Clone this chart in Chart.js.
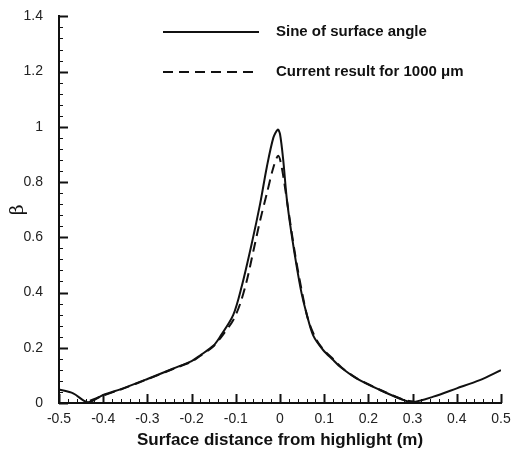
<!DOCTYPE html>
<html>
<head>
<meta charset="utf-8">
<script src="https://cdn.jsdelivr.net/npm/chart.js@4/dist/chart.umd.min.js"></script>
<style>
  html, body { margin: 0; padding: 0; background: #fff; }
  #wrap { width: 531px; height: 451px; }
</style>
</head>
<body>
<div id="wrap"><canvas id="betaChart" width="531" height="451"></canvas></div>
<script>
// surface distance (m) and beta
const sineX = [-0.5, -0.468, -0.435, -0.4, -0.355, -0.3, -0.241, -0.2, -0.181, -0.151, -0.136, -0.106,
  -0.087, -0.064, -0.045, -0.03, -0.015, -0.005, 0, 0.0075, 0.015, 0.026, 0.038, 0.049, 0.06, 0.075,
  0.098, 0.121, 0.136, 0.173, 0.226, 0.279, 0.3, 0.347, 0.4, 0.452, 0.5];
const sineY = [0.049, 0.035, 0.003, 0.029, 0.053, 0.087, 0.125, 0.152, 0.172, 0.207, 0.239, 0.318,
  0.42, 0.577, 0.721, 0.853, 0.961, 0.99, 0.974, 0.877, 0.745, 0.613, 0.492, 0.396, 0.324, 0.245,
  0.191, 0.155, 0.131, 0.089, 0.047, 0.011, 0.003, 0.023, 0.053, 0.083, 0.119];

const currentX = [-0.43, -0.4, -0.355, -0.3, -0.241, -0.2, -0.181, -0.151, -0.13, -0.106, -0.09, -0.075,
  -0.06, -0.045, -0.03, -0.015, -0.004, 0.004, 0.019, 0.034, 0.049, 0.064, 0.083, 0.1, 0.121, 0.14,
  0.173, 0.226, 0.279, 0.305];
const currentY = [0.008, 0.027, 0.052, 0.086, 0.124, 0.15, 0.17, 0.205, 0.245, 0.3, 0.36, 0.444,
  0.552, 0.661, 0.757, 0.853, 0.895, 0.853, 0.697, 0.54, 0.408, 0.3, 0.227, 0.19, 0.158, 0.128,
  0.09, 0.048, 0.012, 0.004];

const xTicks = [-0.5, -0.4, -0.3, -0.2, -0.1, 0, 0.1, 0.2, 0.3, 0.4, 0.5];
const yTicks = [0, 0.2, 0.4, 0.6, 0.8, 1, 1.2, 1.4];

const FONT = '"Liberation Sans", Arial, sans-serif';

function toPoints(xs, ys) {
  return xs.map((x, i) => ({ x: x, y: ys[i] }));
}

function fmt(v) {
  if (Math.abs(v) < 1e-9) return '0';
  if (Math.abs(v - Math.round(v)) < 1e-9) return String(Math.round(v));
  return v.toFixed(1);
}

// inward major/minor ticks on both axes
const innerTicks = {
  id: 'innerTicks',
  afterDraw(chart) {
    const ctx = chart.ctx;
    const xs = chart.scales.x, ys = chart.scales.y;
    const bottom = chart.chartArea.bottom, left = chart.chartArea.left;
    ctx.save();
    ctx.strokeStyle = '#111';
    for (let i = 0; i <= 50; i++) {
      const v = -0.5 + i * 0.02;
      const px = Math.round(xs.getPixelForValue(v)) + 0.5;
      const major = i % 5 === 0;
      ctx.lineWidth = major ? 2 : 1;
      ctx.beginPath();
      ctx.moveTo(px, bottom);
      ctx.lineTo(px, bottom - (major ? 9 : 4));
      ctx.stroke();
    }
    for (let i = 0; i <= 35; i++) {
      const v = i * 0.04;
      const py = Math.round(ys.getPixelForValue(v)) + 0.5;
      const major = i % 5 === 0;
      ctx.lineWidth = major ? 2 : 1;
      ctx.beginPath();
      ctx.moveTo(left, py);
      ctx.lineTo(left + (major ? 9 : 4), py);
      ctx.stroke();
    }
    ctx.restore();
  }
};

// legend with line samples in the upper right of the plot
const lineLegend = {
  id: 'lineLegend',
  afterDraw(chart) {
    const ctx = chart.ctx;
    const rows = [32, 72];
    ctx.save();
    chart.data.datasets.forEach((ds, i) => {
      const y = rows[i];
      ctx.strokeStyle = '#111';
      ctx.lineWidth = 2;
      ctx.setLineDash(ds.borderDash || []);
      ctx.beginPath();
      ctx.moveTo(163, y);
      ctx.lineTo(259, y);
      ctx.stroke();
      ctx.setLineDash([]);
      ctx.fillStyle = '#111';
      ctx.font = 'bold 15px ' + FONT;
      ctx.textBaseline = 'middle';
      ctx.fillText(ds.label, 276, y);
    });
    ctx.restore();
  }
};

new Chart(document.getElementById('betaChart'), {
  type: 'line',
  data: {
    datasets: [{
      label: 'Sine of surface angle',
      data: toPoints(sineX, sineY),
      borderColor: '#111',
      borderWidth: 2,
      pointRadius: 0,
      tension: 0.3
    }, {
      label: 'Current result for 1000 \u03bcm',
      data: toPoints(currentX, currentY),
      borderColor: '#111',
      borderWidth: 2,
      borderDash: [10, 6],
      pointRadius: 0,
      tension: 0.3
    }]
  },
  options: {
    responsive: false,
    animation: false,
    layout: { padding: { left: 0, right: 30, top: 15, bottom: 0 } },
    plugins: {
      legend: { display: false },
      tooltip: { enabled: false }
    },
    scales: {
      x: {
        type: 'linear',
        min: -0.5,
        max: 0.5,
        afterBuildTicks: (s) => { s.ticks = xTicks.map(v => ({ value: v })); },
        afterFit: (s) => { s.height = 48; },
        grid: { display: false },
        border: { display: true, color: '#111', width: 2 },
        ticks: {
          color: '#222',
          font: { family: FONT, size: 14 },
          padding: 0,
          maxRotation: 0,
          callback: (v) => fmt(v)
        },
        title: {
          display: true,
          text: 'Surface distance from highlight (m)',
          color: '#111',
          font: { family: FONT, size: 17, weight: 'bold' },
          padding: { top: 4, bottom: 0 }
        }
      },
      y: {
        type: 'linear',
        min: 0,
        max: 1.4,
        afterBuildTicks: (s) => { s.ticks = yTicks.map(v => ({ value: v })); },
        afterFit: (s) => { s.width = 59; },
        grid: { display: false },
        border: { display: true, color: '#111', width: 2 },
        ticks: {
          color: '#222',
          font: { family: FONT, size: 14 },
          padding: 8,
          callback: (v) => fmt(v)
        },
        title: {
          display: true,
          text: '\u03b2',
          color: '#111',
          font: { family: '"DejaVu Serif", serif', size: 19 },
          padding: { top: 7, bottom: 0 }
        }
      }
    }
  },
  plugins: [innerTicks, lineLegend]
});
</script>
</body>
</html>
